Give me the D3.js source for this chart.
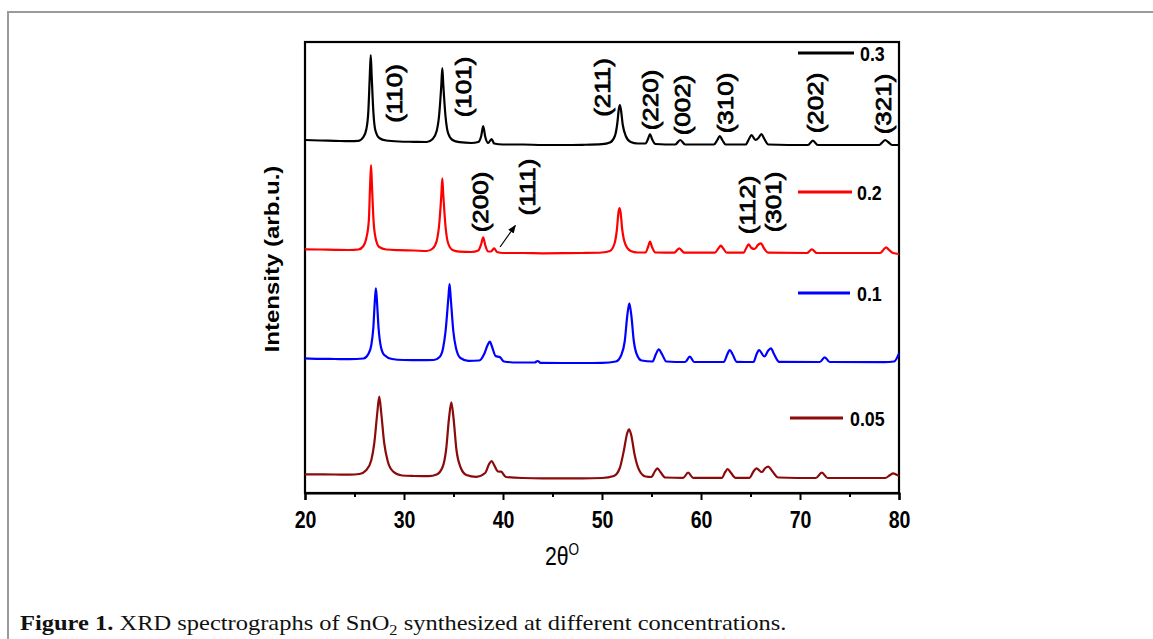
<!DOCTYPE html>
<html>
<head>
<meta charset="utf-8">
<script src="https://cdn.jsdelivr.net/npm/d3@7"></script>
<style>
  html, body { margin: 0; padding: 0; background: #ffffff; }
  svg { display: block; }
</style>
</head>
<body>
<svg id="chart" width="1153" height="639"></svg>
<script>
// ---- Data: XRD patterns of SnO2, [2θ (deg), intensity (counts)] ----
const concentrations = ["0.3", "0.2", "0.1", "0.05"];
const seriesColors = ["#000000", "#ff0000", "#0000ff", "#8b0a0a"];
const stackOffsets = [3300, 2200, 1150, 0];

const pattern03 = [
  [20.0, 230], [21.5, 225], [23.0, 222], [24.5, 218], [25.4, 222], [25.9, 260], [26.2, 340],
  [26.4, 520], [26.54, 860], [26.64, 1080], [26.74, 860], [26.9, 520], [27.1, 330], [27.5, 250],
  [28.2, 225], [29.5, 215], [31.0, 212], [32.3, 210], [32.9, 240], [33.3, 320], [33.55, 480],
  [33.77, 780], [33.87, 950], [33.97, 780], [34.2, 460], [34.45, 300], [34.9, 230], [35.6, 208],
  [36.8, 200], [37.5, 210], [37.8, 270], [38.0, 370], [38.2, 265], [38.5, 200], [38.85, 240],
  [39.1, 195], [40.0, 185], [42.0, 185], [44.0, 180], [46.0, 180], [48.0, 182], [50.0, 188],
  [50.8, 205], [51.3, 270], [51.55, 400], [51.7, 540], [51.8, 580], [51.9, 540], [52.1, 380],
  [52.4, 270], [52.9, 210], [53.6, 195], [54.4, 195], [54.65, 240], [54.85, 290], [55.05, 240],
  [55.4, 190], [57.4, 185], [57.9, 230], [58.4, 185], [61.3, 185], [61.65, 230], [61.9, 270],
  [62.15, 230], [62.5, 185], [64.5, 185], [64.85, 240], [65.1, 280], [65.5, 230], [65.8, 250],
  [66.1, 290], [66.4, 240], [66.8, 185], [70.8, 180], [71.3, 223], [71.8, 180], [78.0, 180],
  [78.35, 210], [78.6, 230], [78.9, 210], [79.3, 180], [80.0, 180]
];

const pattern02 = [
  [20.0, 237], [21.5, 235], [23.0, 232], [24.5, 230], [25.4, 235], [25.9, 270], [26.2, 350],
  [26.45, 530], [26.57, 860], [26.67, 1080], [26.77, 860], [26.92, 530], [27.15, 340], [27.5, 260],
  [28.2, 235], [29.5, 228], [31.0, 225], [32.3, 220], [32.9, 245], [33.3, 320], [33.55, 480],
  [33.77, 780], [33.87, 947], [33.97, 780], [34.2, 460], [34.45, 300], [34.9, 230], [35.6, 213],
  [36.8, 210], [37.5, 225], [37.8, 290], [38.0, 357], [38.2, 280], [38.5, 215], [38.8, 215],
  [39.1, 247], [39.4, 210], [40.0, 200], [42.0, 200], [44.0, 197], [46.0, 198], [48.0, 200],
  [50.0, 205], [50.8, 220], [51.25, 290], [51.5, 430], [51.67, 610], [51.77, 650], [51.87, 610],
  [52.05, 430], [52.35, 290], [52.9, 220], [53.6, 205], [54.4, 205], [54.65, 260], [54.85, 313],
  [55.05, 260], [55.4, 205], [57.3, 203], [57.8, 247], [58.3, 203], [61.4, 203], [61.75, 245],
  [62.0, 273], [62.25, 245], [62.6, 203], [64.3, 203], [64.6, 255], [64.8, 287], [65.1, 250],
  [65.4, 240], [65.8, 285], [66.06, 297], [66.35, 250], [66.8, 203], [70.7, 200], [71.2, 237],
  [71.7, 200], [78.1, 200], [78.45, 235], [78.7, 257], [78.95, 235], [79.4, 200], [80.0, 190]
];

const pattern01 = [
  [20.0, 197], [21.5, 192], [23.0, 190], [24.5, 188], [25.9, 195], [26.4, 240], [26.7, 330],
  [26.9, 500], [27.06, 780], [27.16, 897], [27.26, 780], [27.43, 500], [27.65, 320], [28.0, 230],
  [28.8, 190], [30.0, 180], [31.5, 178], [33.0, 180], [33.6, 210], [33.95, 300], [34.2, 470],
  [34.48, 800], [34.6, 940], [34.72, 800], [34.98, 470], [35.25, 300], [35.7, 200], [36.5, 172],
  [37.6, 175], [38.1, 240], [38.45, 330], [38.67, 363], [38.9, 310], [39.25, 220], [39.7, 207],
  [40.1, 165], [41.5, 155], [43.2, 155], [43.5, 170], [43.8, 152], [46.0, 150], [48.0, 150],
  [50.0, 152], [51.4, 165], [51.95, 230], [52.3, 370], [52.55, 620], [52.76, 747], [52.97, 620],
  [53.2, 380], [53.5, 240], [54.0, 175], [55.1, 165], [55.45, 240], [55.74, 287], [56.05, 240],
  [56.5, 165], [58.4, 160], [58.87, 213], [59.3, 160], [62.3, 160], [62.65, 235], [62.9, 280],
  [63.2, 235], [63.6, 162], [65.3, 160], [65.62, 240], [65.86, 280], [66.4, 215], [66.8, 275],
  [67.07, 297], [67.35, 245], [67.9, 162], [72.0, 160], [72.5, 207], [73.0, 160], [78.5, 158],
  [79.5, 165], [80.0, 247]
];

const pattern005 = [
  [20.0, 187], [21.5, 186], [23.0, 185], [24.5, 183], [25.5, 190], [26.2, 230], [26.7, 330],
  [27.0, 500], [27.3, 800], [27.5, 963], [27.7, 800], [28.0, 500], [28.35, 320], [28.9, 215],
  [29.8, 175], [31.0, 170], [32.5, 168], [33.3, 185], [33.9, 260], [34.25, 430], [34.55, 750],
  [34.78, 907], [35.0, 750], [35.3, 430], [35.7, 260], [36.3, 180], [37.3, 162], [38.2, 200],
  [38.6, 290], [38.86, 320], [39.1, 280], [39.5, 215], [39.8, 213], [40.3, 160], [42.0, 150],
  [44.0, 147], [46.0, 147], [48.0, 147], [50.0, 150], [51.2, 170], [51.8, 250], [52.2, 420],
  [52.55, 600], [52.74, 637], [52.95, 580], [53.3, 380], [53.75, 230], [54.4, 165], [55.0, 160],
  [55.3, 210], [55.6, 247], [55.9, 210], [56.4, 155], [58.2, 152], [58.7, 203], [59.2, 152],
  [62.1, 152], [62.45, 210], [62.7, 240], [63.0, 205], [63.5, 152], [64.9, 152], [65.3, 215],
  [65.6, 247], [66.15, 210], [66.5, 250], [66.8, 263], [67.15, 225], [67.8, 155], [71.6, 150],
  [72.2, 203], [72.8, 150], [78.6, 150], [79.1, 180], [79.4, 197], [79.7, 185], [80.0, 170]
];

const patterns = [pattern03, pattern02, pattern01, pattern005];

const xMajorTicks = [20, 30, 40, 50, 60, 70, 80];
const xMinorTicks = [25, 35, 45, 55, 65, 75];

// Miller indices of the reflections: label, 2θ, stacked intensity level
const hklLabels = ["(110)", "(101)", "(211)", "(220)", "(002)", "(310)", "(202)", "(321)",
                   "(200)", "(111)", "(112)", "(301)"];
const hklTheta  = [29.0, 35.95, 50.0, 54.85, 58.08, 62.42, 71.52, 78.38, 37.68, 42.42, 64.65, 67.27];
const hklLevel  = [3995, 4060, 4055, 3930, 3880, 3900, 3900, 3890, 2910, 3060, 2880, 2910];

// ---- Layout ----
const svg = d3.select("#chart");
const W = 1153, H = 639;
const plot = { left: 305, right: 899, top: 42, bottom: 493 };
const squash = 0.85;

const x = d3.scaleLinear().domain([20, 80]).range([plot.left, plot.right]);
const y = d3.scaleLinear().domain([0, 4510]).range([plot.bottom, plot.top]);

// page border
svg.append("path")
  .attr("d", `M8,${H} L8,12 L${W},12`)
  .attr("fill", "none").attr("stroke", "#9a9a9a").attr("stroke-width", 2);

// plot frame
svg.append("rect")
  .attr("x", plot.left).attr("y", plot.top)
  .attr("width", plot.right - plot.left).attr("height", plot.bottom - plot.top)
  .attr("fill", "none").attr("stroke", "#000").attr("stroke-width", 2.2);

// traces
const line = d3.line().curve(d3.curveMonotoneX);
patterns.forEach((pts, i) => {
  svg.append("path")
    .attr("d", line.x(d => x(d[0])).y(d => y(d[1] + stackOffsets[i]))(pts))
    .attr("fill", "none")
    .attr("stroke", seriesColors[i])
    .attr("stroke-width", 2.2)
    .attr("stroke-linejoin", "round");
});

// bottom axis: minor ticks then major ticks with labels
const minorAxis = d3.axisBottom(x).tickValues(xMinorTicks).tickSize(4).tickFormat("");
svg.append("g").attr("transform", `translate(0,${plot.bottom})`).call(minorAxis)
  .call(g => g.select(".domain").remove())
  .call(g => g.selectAll("line").attr("stroke-width", 2));

const majorAxis = d3.axisBottom(x).tickValues(xMajorTicks).tickSize(7).tickPadding(0);
const gx = svg.append("g").attr("transform", `translate(0,${plot.bottom})`).call(majorAxis);
gx.select(".domain").attr("stroke-width", 2.2);
gx.selectAll("line").attr("stroke-width", 2);
gx.selectAll("text")
  .attr("y", 19).attr("dy", "0.71em")
  .attr("transform", `scale(${squash},1)`)
  .style("font-family", "'Liberation Sans', Arial, sans-serif")
  .style("font-weight", "bold")
  .style("font-size", "23px")
  .attr("fill", "#000");

// axis titles
const sans = "'Liberation Sans', Arial, sans-serif";
svg.append("text")
  .attr("transform", `translate(272,259) scale(${squash},1) rotate(-90)`)
  .attr("text-anchor", "middle").attr("dominant-baseline", "central")
  .style("font-family", sans).style("font-weight", "bold").style("font-size", "24px")
  .text("Intensity (arb.u.)");

const xt = svg.append("text")
  .attr("transform", `translate(562,565) scale(${squash},1)`)
  .attr("text-anchor", "middle")
  .style("font-family", sans).style("font-size", "25px");
xt.append("tspan").text("2θ");
xt.append("tspan").attr("dy", -10).style("font-size", "16px").text("O");

// reflection labels
hklLabels.forEach((lab, i) => {
  svg.append("text")
    .attr("transform", `translate(${x(hklTheta[i])},${y(hklLevel[i])}) scale(${squash},1) rotate(-90)`)
    .attr("text-anchor", "middle").attr("dominant-baseline", "central")
    .style("font-family", sans).style("font-size", "26px")
    .attr("fill", "#000").attr("stroke", "#000").attr("stroke-width", 0.9)
    .text(lab);
});

// arrow pointing at the weak (111) reflection
svg.append("defs").append("marker")
  .attr("id", "arrowhead").attr("viewBox", "0 0 10 10")
  .attr("refX", 9).attr("refY", 5)
  .attr("markerWidth", 7).attr("markerHeight", 7)
  .attr("orient", "auto-start-reverse")
  .append("path").attr("d", "M0,1 L10,5 L0,9 Z").attr("fill", "#000");
svg.append("line")
  .attr("x1", x(39.7)).attr("y1", y(2460))
  .attr("x2", x(41.25)).attr("y2", y(2675))
  .attr("stroke", "#000").attr("stroke-width", 1.2)
  .attr("marker-end", "url(#arrowhead)");

// legend, one entry beside each trace
const legendRows = [
  { y: 53,  x1: 798, x2: 854, tx: 860 },
  { y: 192, x1: 798, x2: 852, tx: 857 },
  { y: 293, x1: 798, x2: 850, tx: 857 },
  { y: 418, x1: 790, x2: 843, tx: 850 }
];
concentrations.forEach((c, i) => {
  const r = legendRows[i];
  svg.append("line")
    .attr("x1", r.x1).attr("x2", r.x2).attr("y1", r.y).attr("y2", r.y)
    .attr("stroke", seriesColors[i]).attr("stroke-width", 3.2);
  svg.append("text")
    .attr("transform", `translate(${r.tx},${r.y}) scale(${squash},1)`)
    .attr("dominant-baseline", "central")
    .style("font-family", sans).style("font-weight", "bold").style("font-size", "21px")
    .text(c);
});

// figure caption
const serif = "'Liberation Serif', 'Times New Roman', serif";
const cap = svg.append("text")
  .attr("x", 0).attr("y", 0)
  .style("font-family", serif).style("font-size", "21px").attr("fill", "#111");
cap.append("tspan").style("font-weight", "bold").text("Figure 1.");
cap.append("tspan").text(" XRD spectrographs of SnO");
cap.append("tspan").attr("dy", 5).style("font-size", "14px").text("2");
cap.append("tspan").attr("dy", -5).text(" synthesized at different concentrations.");
const capW = cap.node().getComputedTextLength();
cap.attr("transform", `translate(20,630) scale(${767 / capW},1)`);
</script>
</body>
</html>
